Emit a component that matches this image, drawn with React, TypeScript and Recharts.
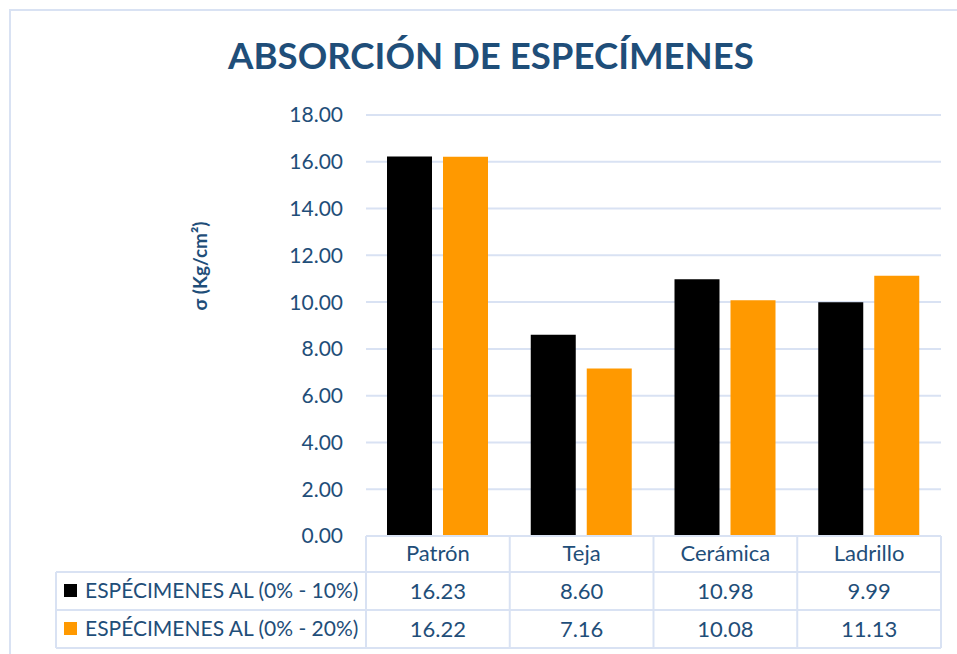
import { Bar, BarChart, CartesianGrid, XAxis, YAxis } from "recharts"

const categories = ["Patrón", "Teja", "Cerámica", "Ladrillo"]
const series10 = [16.23, 8.6, 10.98, 9.99]
const series20 = [16.22, 7.16, 10.08, 11.13]
const seriesNames = ["ESPÉCIMENES AL (0% - 10%)", "ESPÉCIMENES AL (0% - 20%)"]
const seriesColors = ["#000000", "#FF9900"]
const yTicks = [0, 2, 4, 6, 8, 10, 12, 14, 16, 18]

const TITLE = "ABSORCIÓN DE ESPECÍMENES"
const Y_LABEL = "σ (Kg/cm²)"

const BLUE = "#1F4E79"
const GRID = "#D9E2F3"
const FONT = "Lato, 'Open Sans', sans-serif"

const W = 957
const H = 654
const PLOT_LEFT = 366
const PLOT_RIGHT = 941
const PLOT_TOP = 115
const PLOT_BOTTOM = 536
const TABLE_LEFT = 56
const ROW_LINES = [536, 572, 610, 648]

const data = categories.map((name, i) => ({
  name,
  s10: series10[i],
  s20: series20[i],
}))

const fmt = (v: number) => v.toFixed(2)

// header + value rows under each category, hung off the x axis ticks
const TableTick = (props: any) => {
  const { x, y, payload, index } = props
  const i = index ?? categories.indexOf(payload.value)
  return (
    <g fontFamily={FONT} fontSize={22} fill={BLUE} textAnchor="middle">
      <text x={x} y={y + 25}>{payload.value}</text>
      <text x={x} y={y + 63}>{fmt(series10[i])}</text>
      <text x={x} y={y + 101}>{fmt(series20[i])}</text>
    </g>
  )
}

export default function App() {
  const colW = (PLOT_RIGHT - PLOT_LEFT) / categories.length
  const colX = categories.map((_, i) => PLOT_LEFT + i * colW).concat(PLOT_RIGHT)

  return (
    <div style={{ position: "absolute", left: 0, top: 0, width: W, height: H, background: "#fff" }}>
      <BarChart
        width={W}
        height={H}
        data={data}
        margin={{ top: PLOT_TOP, right: W - PLOT_RIGHT, bottom: 8, left: PLOT_LEFT - 100 }}
        barSize={45}
        barGap={11}
      >
        <CartesianGrid horizontal vertical={false} stroke={GRID} strokeWidth={2} />
        <XAxis
          dataKey="name"
          height={H - PLOT_BOTTOM - 8}
          axisLine={false}
          tickLine={false}
          tickSize={0}
          tickMargin={0}
          interval={0}
          tick={<TableTick />}
        />
        <YAxis
          width={100}
          domain={[0, 18]}
          ticks={yTicks}
          tickFormatter={fmt}
          axisLine={false}
          tickLine={false}
          tickMargin={17}
          tick={{ fill: BLUE, fontSize: 21, fontFamily: FONT }}
          label={{
            content: () => (
              <text
                x={207}
                y={266}
                transform="rotate(-90 207 266)"
                textAnchor="middle"
                fill={BLUE}
                fontFamily={FONT}
                fontWeight="bold"
                fontSize={19}
              >
                {Y_LABEL}
              </text>
            ),
          }}
        />
        <Bar dataKey="s10" name={seriesNames[0]} fill={seriesColors[0]} isAnimationActive={false} />
        <Bar dataKey="s20" name={seriesNames[1]} fill={seriesColors[1]} isAnimationActive={false} />
      </BarChart>

      <svg
        width={W}
        height={H}
        style={{ position: "absolute", left: 0, top: 0, pointerEvents: "none" }}
      >
        {/* chart frame, cut by the image edge on right and bottom */}
        <path d={`M10 ${H} V10 H${W}`} fill="none" stroke={GRID} strokeWidth={2} />

        <text
          x={491}
          y={69}
          textAnchor="middle"
          fill={BLUE}
          fontFamily={FONT}
          fontWeight="bold"
          fontSize={36.6}
        >
          {TITLE}
        </text>

        {/* data table grid */}
        <g stroke={GRID} strokeWidth={2}>
          <line x1={PLOT_LEFT} x2={PLOT_RIGHT} y1={ROW_LINES[0]} y2={ROW_LINES[0]} />
          {ROW_LINES.slice(1).map((y) => (
            <line key={y} x1={TABLE_LEFT} x2={PLOT_RIGHT} y1={y} y2={y} />
          ))}
          {colX.map((x) => (
            <line key={x} x1={x} x2={x} y1={ROW_LINES[0]} y2={ROW_LINES[3]} />
          ))}
          <line x1={TABLE_LEFT} x2={TABLE_LEFT} y1={ROW_LINES[1]} y2={ROW_LINES[3]} />
        </g>

        {seriesNames.map((name, i) => {
          const yMid = (ROW_LINES[i + 1] + ROW_LINES[i + 2]) / 2
          return (
            <g key={name}>
              <rect x={64} y={yMid - 7} width={13} height={13} fill={seriesColors[i]} />
              <text x={85} y={yMid + 7} fill={BLUE} fontFamily={FONT} fontSize={21}>
                {name}
              </text>
            </g>
          )
        })}
      </svg>
    </div>
  )
}
